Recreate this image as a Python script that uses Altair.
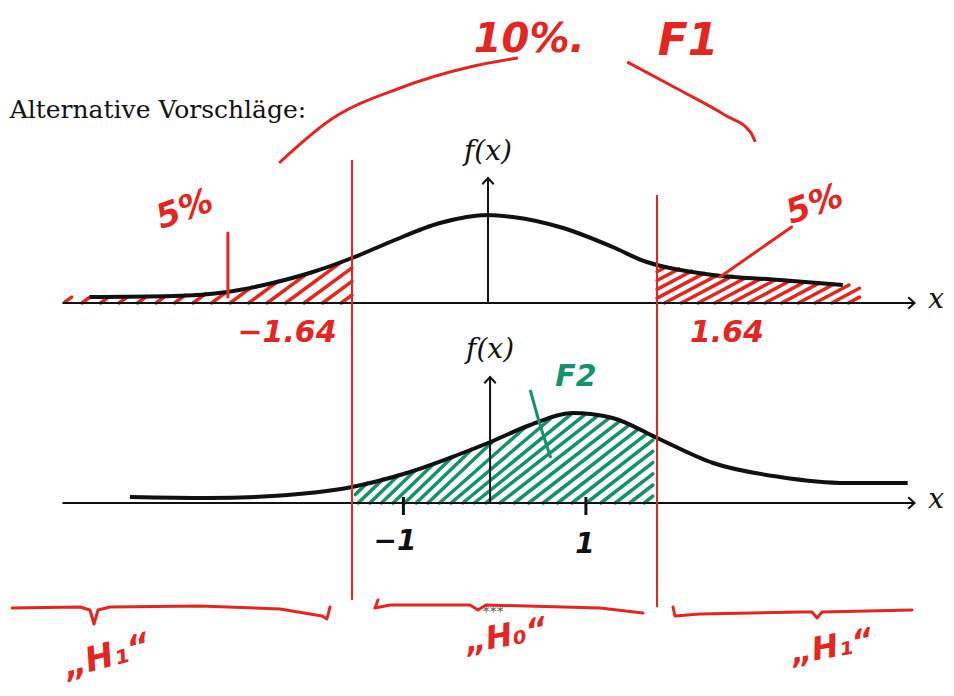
import altair as alt
import pandas as pd
import numpy as np

# ---------------- data ----------------
# x in z-units, heights in sheet units above each panel's baseline
TOP_BASE = 0.0
BOT_BASE = -1.0
CRIT = [-1.64, 1.64]

top_x = [-4.05, -3.28, -2.79, -2.37, -2.0, -1.64, -1.18, -0.58, 0.0, 0.24, 0.73, 1.21, 1.54, 1.64, 2.21, 2.89, 3.53]
top_h = [0.03, 0.035, 0.055, 0.10, 0.155, 0.225, 0.305, 0.40, 0.44, 0.43, 0.375, 0.28, 0.205, 0.19, 0.14, 0.115, 0.09]

bot_x = [-3.68, -2.97, -2.37, -1.64, -0.98, -0.37, 0.0, 0.41, 0.82, 1.21, 1.64, 2.21, 2.89, 3.57, 4.19]
bot_h = [0.03, 0.025, 0.035, 0.08, 0.15, 0.24, 0.30, 0.39, 0.45, 0.425, 0.325, 0.20, 0.13, 0.10, 0.10]

axis_x_from, axis_x_to = -4.30, 4.26
vaxis_height = [0.625, 0.63]
crit_top = [0.715, 0.54]
crit_bottom = [-1.485, -1.52]
tick_x = [-1.02, 0.95]
tick_y = [-0.97, -1.06]

arc_left_x = [-2.31, -1.84, -1.06, -0.22, 0.29]
arc_left_y = [0.70, 0.915, 1.075, 1.18, 1.225]
arc_right_x = [1.35, 1.87, 2.33, 2.59, 2.64]
arc_right_y = [1.205, 1.065, 0.94, 0.855, 0.805]

brace1_x = [-4.763, -4.139, -4.047, -4.01, -3.973, -3.863, -3.036, -2.301, -1.916, -1.87, -1.842]
brace1_y = [-1.525, -1.52, -1.535, -1.605, -1.535, -1.52, -1.515, -1.53, -1.565, -1.58, -1.52]
brace2_x = [-1.326, -1.363, -1.182, -0.217, -0.121, -0.024, 1.087, 1.504]
brace2_y = [-1.485, -1.525, -1.51, -1.51, -1.535, -1.51, -1.525, -1.55]
brace3_x = [1.803, 1.823, 2.077, 3.095, 3.217, 3.268, 3.319, 4.234]
brace3_y = [-1.52, -1.565, -1.555, -1.545, -1.545, -1.575, -1.545, -1.535]

ptr5l_x, ptr5l_y = [-2.78, -2.78], [0.35, 0.03]
ptr5r_x, ptr5r_y = [3.01, 2.28], [0.38, 0.13]
ptrF2_x, ptrF2_y = [0.41, 0.50, 0.61], [-0.435, -0.60, -0.775]

hand_text = ["10%.", "F1", "5%", "5%", "−1.64", "1.64", "F2", "−1", "1", "„H₁“", "„H₀“", "„H₁“"]
hand_x = [0.40, 1.955, -3.174, 3.247, -2.237, 2.352, 0.854, -1.121, 0.94, -3.891, 0.175, 3.42]
hand_y = [1.315, 1.305, 0.465, 0.49, -0.15, -0.15, -0.37, -1.195, -1.21, -1.77, -1.665, -1.72]
hand_color = ["red", "red", "red", "red", "red", "red", "green", "black", "black", "red", "red", "red"]
hand_size = [40, 44, 34, 34, 30, 30, 30, 28, 28, 34, 32, 32]
hand_angle = [0, 0, 340, 340, 0, 0, 0, 0, 0, 345, 350, 350]

RED = "#e3261f"
GREEN = "#13926b"
INK = "#111111"
cmap = {"red": RED, "green": GREEN, "black": INK}

# ---------------- scales ----------------
XS = alt.Scale(domain=[-4.8, -1.64, 0, 1.64, 4.58], range=[-8, 336, 472, 641, 930], zero=False, nice=False)
YS = alt.Scale(domain=[-1.925, 1.475], zero=False, nice=False)


def X(f="x"):
    return alt.X(f + ":Q", scale=XS, axis=None)


def Y(f="y"):
    return alt.Y(f + ":Q", scale=YS, axis=None)


def hatch(cx, ch, base, xa, xb, k, step, tag):
    cx = np.asarray(cx); ch = np.asarray(ch)
    rows = []
    x0 = xa - max(ch) / k - 0.1
    i = 0
    while x0 < xb:
        t = np.linspace(0, xb - x0 + 0.01, 3000)
        xs = x0 + t
        ys = k * t
        ok = (xs >= xa) & (xs <= xb) & (ys <= np.interp(xs, cx, ch))
        idx = np.where(ok)[0]
        if len(idx) > 1:
            s = idx[0]
            e = s
            while e + 1 < len(ok) and ok[e + 1]:
                e += 1
            if e > s:
                rows.append({"x": xs[s], "y": base + ys[s], "seg": f"{tag}{i}", "o": 0})
                rows.append({"x": xs[e], "y": base + ys[e], "seg": f"{tag}{i}", "o": 1})
                i += 1
        x0 += step
    return rows


def line_df(xs, ys, base=0.0, name="a"):
    return pd.DataFrame({"x": xs, "y": [base + v for v in ys], "o": list(range(len(xs))), "seg": name})


layers = []

# hatching
red_rows = hatch(top_x, top_h, TOP_BASE, -4.28, -1.64, 0.40, 0.17, "l") + \
    hatch(top_x, top_h, TOP_BASE, 1.64, 3.70, 0.26, 0.17, "r")
green_rows = hatch(bot_x, bot_h, BOT_BASE, -1.60, 1.60, 0.40, 0.14, "g")
layers.append(alt.Chart(pd.DataFrame(red_rows)).mark_line(color=RED, strokeWidth=3.5, strokeCap="round").encode(
    x=X(), y=Y(), detail="seg:N", order="o:Q"))
layers.append(alt.Chart(pd.DataFrame(green_rows)).mark_line(color=GREEN, strokeWidth=3.5, strokeCap="round").encode(
    x=X(), y=Y(), detail="seg:N", order="o:Q"))

# horizontal axes
ax_df = pd.DataFrame({"x": [axis_x_from] * 2, "x2": [axis_x_to] * 2, "y": [TOP_BASE, BOT_BASE]})
layers.append(alt.Chart(ax_df).mark_rule(color=INK, strokeWidth=2).encode(x=X(), x2="x2:Q", y=Y()))
# vertical axes
vax_df = pd.DataFrame({"x": [0.0, 0.02], "y": [TOP_BASE, BOT_BASE],
                       "y2": [TOP_BASE + vaxis_height[0], BOT_BASE + vaxis_height[1]]})
layers.append(alt.Chart(vax_df).mark_rule(color=INK, strokeWidth=2).encode(x=X(), y=Y(), y2="y2:Q"))
# arrow heads
arr_r = pd.DataFrame({"x": [axis_x_to] * 2, "y": [TOP_BASE, BOT_BASE]})
layers.append(alt.Chart(arr_r).mark_point(shape="M -1.1 -1 L 0 0 L -1.1 1", filled=False, stroke=INK,
                                          strokeWidth=2, size=130, opacity=1).encode(x=X(), y=Y()))
arr_u = pd.DataFrame({"x": [0.0, 0.02], "y": [TOP_BASE + vaxis_height[0], BOT_BASE + vaxis_height[1]]})
layers.append(alt.Chart(arr_u).mark_point(shape="M -1 1.1 L 0 0 L 1 1.1", filled=False, stroke=INK,
                                          strokeWidth=2, size=130, opacity=1).encode(x=X(), y=Y()))

# ticks at -1 and 1
tick_df = pd.DataFrame({"x": tick_x, "y": [tick_y[0]] * 2, "y2": [tick_y[1]] * 2})
layers.append(alt.Chart(tick_df).mark_rule(color=INK, strokeWidth=3).encode(x=X(), y=Y(), y2="y2:Q"))

# density curves
layers.append(alt.Chart(line_df(top_x, top_h, TOP_BASE, "top")).mark_line(
    color=INK, strokeWidth=4, interpolate="monotone").encode(x=X(), y=Y(), order="o:Q"))
layers.append(alt.Chart(line_df(bot_x, bot_h, BOT_BASE, "bot")).mark_line(
    color=INK, strokeWidth=4, interpolate="monotone").encode(x=X(), y=Y(), order="o:Q"))

# critical red verticals
crit_df = pd.DataFrame({"x": CRIT, "y": crit_top, "y2": crit_bottom})
layers.append(alt.Chart(crit_df).mark_rule(color=RED, strokeWidth=2).encode(x=X(), y=Y(), y2="y2:Q"))

# red arcs, braces, pointers
red_lines = pd.concat([
    line_df(arc_left_x, arc_left_y, 0, "arcL"),
    line_df(arc_right_x, arc_right_y, 0, "arcR"),
])
layers.append(alt.Chart(red_lines).mark_line(color=RED, strokeWidth=3, interpolate="monotone").encode(
    x=X(), y=Y(), detail="seg:N", order="o:Q"))
red_lin = pd.concat([
    line_df(brace1_x, brace1_y, 0, "b1"),
    line_df(brace2_x, brace2_y, 0, "b2"),
    line_df(brace3_x, brace3_y, 0, "b3"),
    line_df(ptr5l_x, ptr5l_y, 0, "p1"),
    line_df(ptr5r_x, ptr5r_y, 0, "p2"),
])
layers.append(alt.Chart(red_lin).mark_line(color=RED, strokeWidth=3, strokeCap="round",
                                           strokeJoin="round").encode(
    x=X(), y=Y(), detail="seg:N", order="o:Q"))
layers.append(alt.Chart(line_df(ptrF2_x, ptrF2_y, 0, "pg")).mark_line(
    color=GREEN, strokeWidth=3, interpolate="monotone").encode(x=X(), y=Y(), order="o:Q"))

# printed (LaTeX-like) text
serif_df = pd.DataFrame({"t": ["Alternative Vorschläge:"], "x": [-4.785], "y": [0.965]})
layers.append(alt.Chart(serif_df).mark_text(font="DejaVu Serif", fontSize=25, align="left",
                                            baseline="middle", color=INK).encode(x=X(), y=Y(), text="t:N"))
ital_df = pd.DataFrame({"t": ["f(x)", "f(x)", "x", "x"], "x": [0.0, 0.02, 4.48, 4.48],
                        "y": [0.755, -0.235, 0.015, -0.985]})
layers.append(alt.Chart(ital_df).mark_text(font="DejaVu Serif", fontStyle="italic", fontSize=28,
                                           align="center", baseline="middle", color=INK).encode(
    x=X(), y=Y(), text="t:N"))
star_df = pd.DataFrame({"t": ["***"], "x": [0.05], "y": [-1.545]})
layers.append(alt.Chart(star_df).mark_text(font="DejaVu Sans", fontSize=14, color="#555555").encode(
    x=X(), y=Y(), text="t:N"))

# handwritten annotations
hand_df = pd.DataFrame({"t": hand_text, "x": hand_x, "y": hand_y,
                        "c": [cmap[c] for c in hand_color], "s": hand_size, "a": hand_angle})
layers.append(alt.Chart(hand_df).mark_text(font="DejaVu Sans", fontWeight="bold", fontStyle="italic",
                                           align="center", baseline="middle").encode(
    x=X(), y=Y(), text="t:N",
    color=alt.Color("c:N", scale=None),
    size=alt.Size("s:Q", scale=None),
    angle=alt.Angle("a:Q", scale=None)))

chart = alt.layer(*layers).properties(
    width=930, height=680, autosize="none",
    padding={"left": 8, "top": 0, "right": 0, "bottom": 0}
).configure_view(stroke=None)

chart.save("out.html", embed_options={"renderer": "svg", "actions": False})
